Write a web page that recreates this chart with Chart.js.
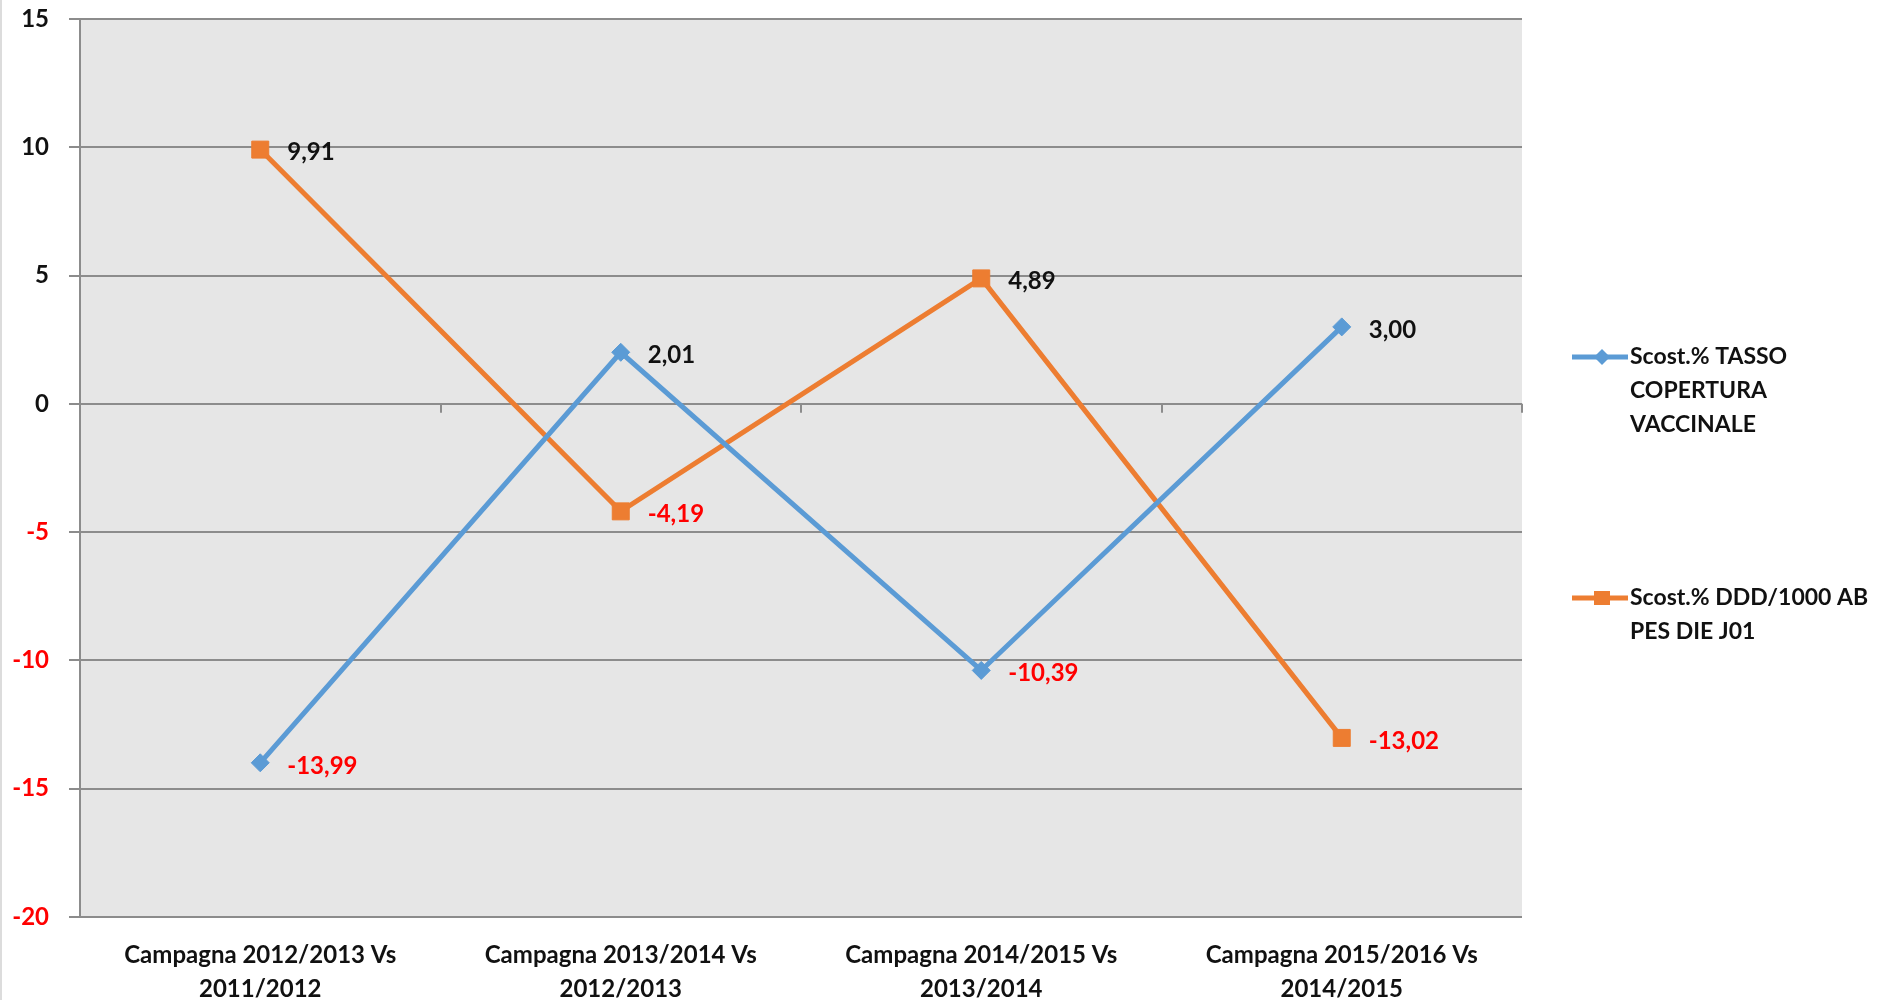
<!DOCTYPE html>
<html>
<head>
<meta charset="utf-8">
<script src="https://cdn.jsdelivr.net/npm/chart.js@4.4.1/dist/chart.umd.min.js"></script>
<style>
html, body { margin: 0; padding: 0; background: #fff; }
#wrap { width: 1886px; height: 1000px; position: relative; }
</style>
</head>
<body>
<div id="wrap"><canvas id="lineChart"></canvas></div>
<script>
// categories (two lines each, as on the axis)
var categories = [
	["Campagna 2012/2013 Vs", "2011/2012"],
	["Campagna 2013/2014 Vs", "2012/2013"],
	["Campagna 2014/2015 Vs", "2013/2014"],
	["Campagna 2015/2016 Vs", "2014/2015"]
];
var tassoLabel = ["Scost.% TASSO", "COPERTURA", "VACCINALE"];
var dddLabel = ["Scost.% DDD/1000 AB", "PES DIE J01"];
var tassoCopertura = [-13.99, 2.01, -10.39, 3.00];
var dddAbitanti = [9.91, -4.19, 4.89, -13.02];
var yMin = -20;
var yMax = 15;
var yStep = 5;

var FONT = "Lato, 'Open Sans', sans-serif";
var TEXT = "#111111";
var RED = "#ff0000";
var GRID = "#8c8c8c";

/* grey plot background + frame line on the left edge of the picture */
var plotBackground = {
	id: "plotBackground",
	beforeDraw: function (chart) {
		var ctx = chart.ctx, a = chart.chartArea;
		ctx.save();
		ctx.fillStyle = "#e6e6e6";
		ctx.fillRect(a.left, a.top, a.right - a.left, a.bottom - a.top);
		ctx.strokeStyle = "#dcdcdc";
		ctx.lineWidth = 2;
		ctx.beginPath();
		ctx.moveTo(1, 0);
		ctx.lineTo(1, chart.height);
		ctx.stroke();
		ctx.restore();
	}
};

/* category tick marks hanging under the zero line */
var zeroTicks = {
	id: "zeroTicks",
	beforeDatasetsDraw: function (chart) {
		var ctx = chart.ctx;
		var xs = chart.scales.x, ys = chart.scales.y;
		var y0 = ys.getPixelForValue(0);
		ctx.save();
		ctx.strokeStyle = GRID;
		ctx.lineWidth = 2;
		for (var i = 0; i <= categories.length; i++) {
			var x = Math.round(xs.getPixelForValue(i - 0.5));
			ctx.beginPath();
			ctx.moveTo(x, y0);
			ctx.lineTo(x, y0 + 9);
			ctx.stroke();
		}
		ctx.restore();
	}
};

/* value labels to the right of each point */
var valueLabels = {
	id: "valueLabels",
	afterDatasetsDraw: function (chart) {
		var ctx = chart.ctx;
		ctx.save();
		ctx.font = "bold 24px " + FONT;
		ctx.textAlign = "left";
		ctx.textBaseline = "middle";
		chart.data.datasets.forEach(function (ds, di) {
			var meta = chart.getDatasetMeta(di);
			meta.data.forEach(function (pt, j) {
				var v = ds.data[j];
				ctx.fillStyle = v < 0 ? RED : TEXT;
				ctx.fillText(v.toFixed(2).replace(".", ","), pt.x + 27, pt.y + 3);
			});
		});
		ctx.restore();
	}
};

/* Excel-like legend on the right, wrapped text */
var sideLegend = {
	id: "sideLegend",
	afterDraw: function (chart) {
		var ctx = chart.ctx, a = chart.chartArea;
		var x0 = a.right + 50;
		var tops = [a.top + 338, a.top + 579];
		var names = [tassoLabel, dddLabel];
		ctx.save();
		chart.data.datasets.forEach(function (ds, i) {
			var y = tops[i];
			ctx.strokeStyle = ds.borderColor;
			ctx.lineWidth = 5;
			ctx.beginPath();
			ctx.moveTo(x0, y);
			ctx.lineTo(x0 + 56, y);
			ctx.stroke();
			ctx.fillStyle = ds.borderColor;
			var cx = x0 + 30;
			if (ds.pointStyle === "rectRot") {
				ctx.beginPath();
				ctx.moveTo(cx - 8, y);
				ctx.lineTo(cx, y - 8);
				ctx.lineTo(cx + 8, y);
				ctx.lineTo(cx, y + 8);
				ctx.closePath();
				ctx.fill();
			} else {
				ctx.fillRect(cx - 8, y - 7, 16, 14);
			}
			ctx.fillStyle = TEXT;
			ctx.font = "bold 23px " + FONT;
			ctx.textAlign = "left";
			ctx.textBaseline = "middle";
			names[i].forEach(function (line, k) {
				ctx.fillText(line, x0 + 58, y + k * 34);
			});
		});
		ctx.restore();
	}
};

new Chart(document.getElementById("lineChart").getContext("2d"), {
	type: "line",
	data: {
		labels: categories,
		datasets: [
			{
				label: tassoLabel.join(" "),
				data: tassoCopertura,
				borderColor: "#5b9bd5",
				backgroundColor: "#5b9bd5",
				borderWidth: 5,
				pointStyle: "rectRot",
				pointRadius: 9,
				pointBorderWidth: 1,
				tension: 0
			},
			{
				label: dddLabel.join(" "),
				data: dddAbitanti,
				borderColor: "#ed7d31",
				backgroundColor: "#ed7d31",
				borderWidth: 5,
				pointStyle: "rect",
				pointRadius: 12,
				pointBorderWidth: 1,
				tension: 0
			}
		]
	},
	options: {
		responsive: true,
		maintainAspectRatio: false,
		animation: false,
		layout: { padding: { top: 19, right: 364, bottom: 0, left: 0 } },
		plugins: {
			legend: { display: false },
			tooltip: { enabled: false }
		},
		scales: {
			x: {
				type: "category",
				offset: true,
				grid: { display: false },
				border: { display: false },
				ticks: {
					autoSkip: false,
					maxRotation: 0,
					padding: 13,
					color: TEXT,
					font: { family: FONT, size: 24, weight: "bold", lineHeight: "34px" }
				},
				afterFit: function (s) {
					s.height = 83;
					s.paddingLeft = 0;
					s.paddingRight = 0;
				}
			},
			y: {
				min: yMin,
				max: yMax,
				ticks: {
					stepSize: yStep,
					padding: 20,
					color: function (c) { return c.tick.value < 0 ? RED : TEXT; },
					font: { family: FONT, size: 24, weight: "bold" }
				},
				grid: { color: GRID, lineWidth: 2, tickLength: 11 },
				border: { display: true, color: GRID, width: 2 },
				afterFit: function (s) {
					s.width = 80;
					s.paddingTop = 0;
					s.paddingBottom = 0;
				}
			}
		}
	},
	plugins: [plotBackground, zeroTicks, valueLabels, sideLegend]
});
</script>
</body>
</html>
